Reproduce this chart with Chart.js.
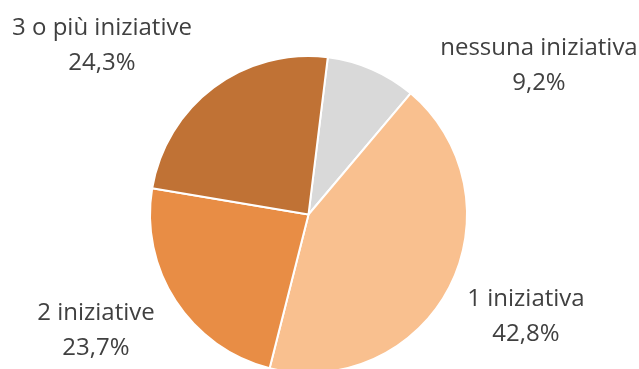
<!DOCTYPE html>
<html>
<head>
<meta charset="utf-8">
<script src="https://cdn.jsdelivr.net/npm/chart.js@4.4.1/dist/chart.umd.min.js"></script>
<style>
  html, body { margin: 0; padding: 0; background: #fff; overflow: hidden; }
  #wrap { position: relative; width: 639px; height: 380px; }
</style>
</head>
<body>
<div id="wrap"><canvas id="pie-chart"></canvas></div>
<script>
const labels = ["nessuna iniziativa", "1 iniziativa", "2 iniziative", "3 o più iniziative"];
const values = [9.2, 42.8, 23.7, 24.3];
const colors = ["#d9d9d9", "#f9c08f", "#e88d45", "#c07235"];

// label placement, in units of the pie radius, from the pie centre
const labelOffsets = [
  [1.454, -0.937],
  [1.372, 0.647],
  [-1.341, 0.732],
  [-1.303, -1.066],
];

const fmt = (v) => v.toFixed(1).replace(".", ",") + "%";

const outsideLabels = {
  id: "outsideLabels",
  afterDatasetsDraw(chart) {
    const c = chart.ctx;
    const arcs = chart.getDatasetMeta(0).data;
    c.save();
    c.fillStyle = "#404040";
    c.font = '24px "Open Sans", sans-serif';
    c.textAlign = "center";
    c.textBaseline = "middle";
    arcs.forEach((arc, i) => {
      const r = arc.outerRadius;
      const x = arc.x + labelOffsets[i][0] * r;
      const y = arc.y + labelOffsets[i][1] * r;
      c.fillText(labels[i], x, y - 17.5);
      c.fillText(fmt(values[i]), x, y + 17.5);
    });
    c.restore();
  },
};

new Chart(document.getElementById("pie-chart"), {
  type: "pie",
  data: {
    labels,
    datasets: [
      {
        data: values,
        backgroundColor: colors,
        borderColor: "#ffffff",
        borderWidth: 2,
      },
    ],
  },
  options: {
    responsive: true,
    maintainAspectRatio: false,
    animation: false,
    rotation: 7,
    layout: {
      padding: { top: 55, bottom: 6, left: 0, right: 22 },
    },
    plugins: {
      legend: { display: false },
      tooltip: { enabled: false },
    },
  },
  plugins: [outsideLabels],
});
</script>
</body>
</html>
